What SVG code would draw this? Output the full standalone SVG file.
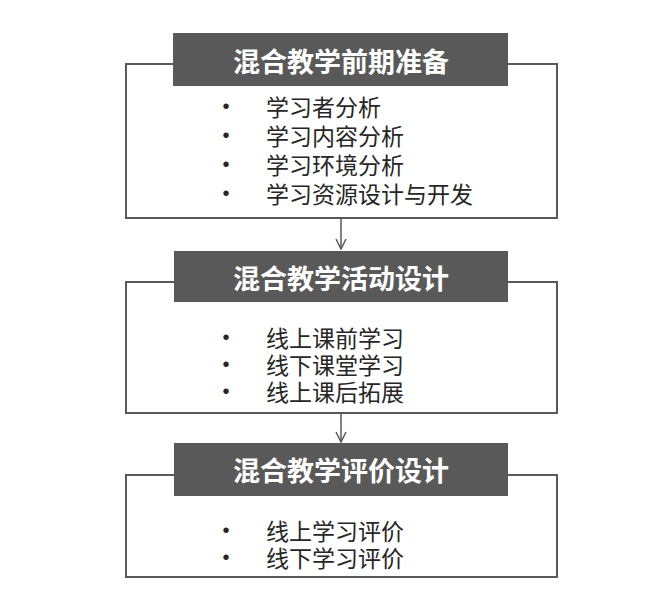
<svg xmlns="http://www.w3.org/2000/svg" width="668" height="594" viewBox="0 0 668 594">
<defs>
<style>
.frame{fill:#fff;stroke:#595959;stroke-width:2}
.head{fill:#595959}
.ht{font-family:"Noto Sans CJK SC","Noto Sans",sans-serif;font-size:27px;font-weight:bold;fill:#fff;text-anchor:middle;dominant-baseline:central}
.it{font-family:"Noto Sans CJK SC","Noto Sans",sans-serif;font-size:23px;fill:#262626;dominant-baseline:central}
.bl{font-family:"Liberation Sans","Noto Sans",sans-serif;font-size:20px;fill:#262626;text-anchor:middle;dominant-baseline:central}
.conn{stroke:#595959;stroke-width:1.5;fill:none}
</style>
<marker id="arr" viewBox="0 0 12 12" refX="11" refY="6" markerWidth="12" markerHeight="12" markerUnits="userSpaceOnUse" orient="auto">
<path d="M1,1 L11,6 L1,11" fill="none" stroke="#595959" stroke-width="1.5"/>
</marker>
</defs>
<rect width="668" height="594" fill="#fff"/>
<g id="connectors">
<line class="conn" x1="341" y1="218" x2="341" y2="249" marker-end="url(#arr)"/>
<line class="conn" x1="341" y1="413" x2="341" y2="442" marker-end="url(#arr)"/>
</g>
<g id="node1">
<rect class="frame" x="126" y="64" width="431" height="154"/>
<rect class="head" x="173" y="33" width="335" height="53"/>
<text class="ht" x="341" y="60">混合教学前期准备</text>
<text class="bl" x="226" y="106">•</text><text class="it" x="266" y="106">学习者分析</text>
<text class="bl" x="226" y="135">•</text><text class="it" x="266" y="135">学习内容分析</text>
<text class="bl" x="226" y="164">•</text><text class="it" x="266" y="164">学习环境分析</text>
<text class="bl" x="226" y="193">•</text><text class="it" x="266" y="193">学习资源设计与开发</text>
</g>
<g id="node2">
<rect class="frame" x="126" y="282" width="431" height="131"/>
<rect class="head" x="174" y="251" width="334" height="51"/>
<text class="ht" x="341" y="277">混合教学活动设计</text>
<text class="bl" x="226" y="337">•</text><text class="it" x="266" y="337">线上课前学习</text>
<text class="bl" x="226" y="364">•</text><text class="it" x="266" y="364">线下课堂学习</text>
<text class="bl" x="226" y="391">•</text><text class="it" x="266" y="391">线上课后拓展</text>
</g>
<g id="node3">
<rect class="frame" x="126" y="475" width="431" height="102"/>
<rect class="head" x="174" y="443" width="334" height="53"/>
<text class="ht" x="341" y="469">混合教学评价设计</text>
<text class="bl" x="226" y="530">•</text><text class="it" x="266" y="530">线上学习评价</text>
<text class="bl" x="226" y="557">•</text><text class="it" x="266" y="557">线下学习评价</text>
</g>
</svg>
